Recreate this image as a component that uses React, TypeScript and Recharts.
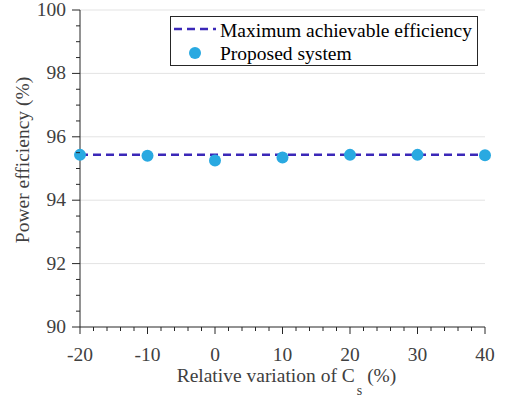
import React from "react";
import { ComposedChart, Line, XAxis, YAxis, ReferenceLine, Legend, Label } from "recharts";

const FONT = '"Liberation Serif", "Times New Roman", serif';
const FS = 19.5;
const AXIS = "#262626";
const TEXT = "#404040";
const DASH = "#3b28b8";
const DOT = "#29a9e1";

// relative variation of Cs (%)
const variation = [-20, -10, 0, 10, 20, 30, 40];
const maxEfficiency = [95.43, 95.43, 95.43, 95.43, 95.43, 95.43, 95.43];
const proposed = [95.43, 95.4, 95.25, 95.35, 95.43, 95.43, 95.42];

const xTicks = [-20, -18, -16, -14, -12, -10, -8, -6, -4, -2, 0, 2, 4, 6, 8, 10, 12, 14, 16, 18, 20, 22, 24, 26, 28, 30, 32, 34, 36, 38, 40];
const yTicks = [90, 90.5, 91, 91.5, 92, 92.5, 93, 93.5, 94, 94.5, 95, 95.5, 96, 96.5, 97, 97.5, 98, 98.5, 99, 99.5, 100];
const gridY = [92, 94, 96, 98, 100];

const data = variation.map((x, i) => ({ x, max: maxEfficiency[i], proposed: proposed[i] }));

const XTick = (props: any) => {
  const { x, y, payload } = props;
  const major = payload.value % 10 === 0;
  return (
    <g>
      <line x1={x} x2={x} y1={y} y2={y + (major ? 7 : 4)} stroke={AXIS} />
      {major && (
        <text x={x} y={y + 34} textAnchor="middle" fontFamily={FONT} fontSize={FS} fill={TEXT}>
          {payload.value}
        </text>
      )}
    </g>
  );
};

const YTick = (props: any) => {
  const { x, y, payload } = props;
  const v = payload.value;
  const major = Number.isInteger(v) && v % 2 === 0;
  return (
    <g>
      <line x1={x} x2={x - (major ? 8 : 4)} y1={y} y2={y} stroke={AXIS} />
      {major && (
        <text x={x - 14} y={y + 6} textAnchor="end" fontFamily={FONT} fontSize={FS} fill={TEXT}>
          {v}
        </text>
      )}
    </g>
  );
};

const XLabel = (props: any) => {
  const { viewBox } = props;
  const cx = viewBox.x + viewBox.width / 2 + 4;
  return (
    <text x={cx} y={382} textAnchor="middle" fontFamily={FONT} fontSize={FS} fill={TEXT}>
      Relative variation of C
      <tspan dx={2} dy={13} fontSize={14}>s</tspan>
      <tspan dy={-13}> (%)</tspan>
    </text>
  );
};

const YLabel = () => (
  <text
    x={22}
    y={160}
    transform="rotate(-90 22 160)"
    textAnchor="middle"
    dominantBaseline="central"
    fontFamily={FONT}
    fontSize={FS}
    fill={TEXT}
  >
    Power efficiency (%)
  </text>
);

const renderLegend = () => (
  <svg width={308} height={50} style={{ display: "block" }}>
    <rect x={0.5} y={0.5} width={307} height={49} fill="#fff" stroke={AXIS} />
    <line x1={4} x2={46} y1={13} y2={13} stroke={DASH} strokeWidth={2.5} strokeDasharray="8 5" />
    <circle cx={25} cy={37} r={6} fill={DOT} />
    <text x={50} y={14} dominantBaseline="central" fontFamily={FONT} fontSize={FS} fill="#000">
      Maximum achievable efficiency
    </text>
    <text x={50} y={37} dominantBaseline="central" fontFamily={FONT} fontSize={FS} fill="#000">
      Proposed system
    </text>
  </svg>
);

export default function App() {
  return (
    <div style={{ position: "absolute", left: 0, top: 0, width: 505, height: 401, background: "#fff" }}>
      <ComposedChart width={505} height={401} data={data} margin={{ top: 10, right: 20, bottom: 0, left: 0 }}>
        {gridY.map((g) => (
          <ReferenceLine key={g} y={g} stroke="#e3e3e3" strokeWidth={1} />
        ))}
        <XAxis
          type="number"
          dataKey="x"
          domain={[-20, 40]}
          ticks={xTicks}
          interval={0}
          height={74}
          tickSize={0}
          tickMargin={0}
          tickLine={false}
          axisLine={{ stroke: AXIS }}
          tick={<XTick />}
        >
          <Label content={<XLabel />} />
        </XAxis>
        <YAxis
          type="number"
          domain={[90, 100]}
          ticks={yTicks}
          interval={0}
          width={80}
          tickSize={0}
          tickMargin={0}
          tickLine={false}
          axisLine={{ stroke: AXIS }}
          tick={<YTick />}
        >
          <Label content={<YLabel />} />
        </YAxis>
        <Legend
          layout="horizontal"
          verticalAlign="middle"
          align="center"
          content={renderLegend}
          wrapperStyle={{ left: 170, top: 16, width: 308, height: 50 }}
        />
        <Line
          dataKey="max"
          stroke={DASH}
          strokeWidth={2.5}
          strokeDasharray="8 5"
          dot={false}
          isAnimationActive={false}
        />
        <Line
          dataKey="proposed"
          stroke="none"
          dot={{ r: 6, fill: DOT, stroke: "none" }}
          activeDot={false}
          isAnimationActive={false}
        />
      </ComposedChart>
    </div>
  );
}
